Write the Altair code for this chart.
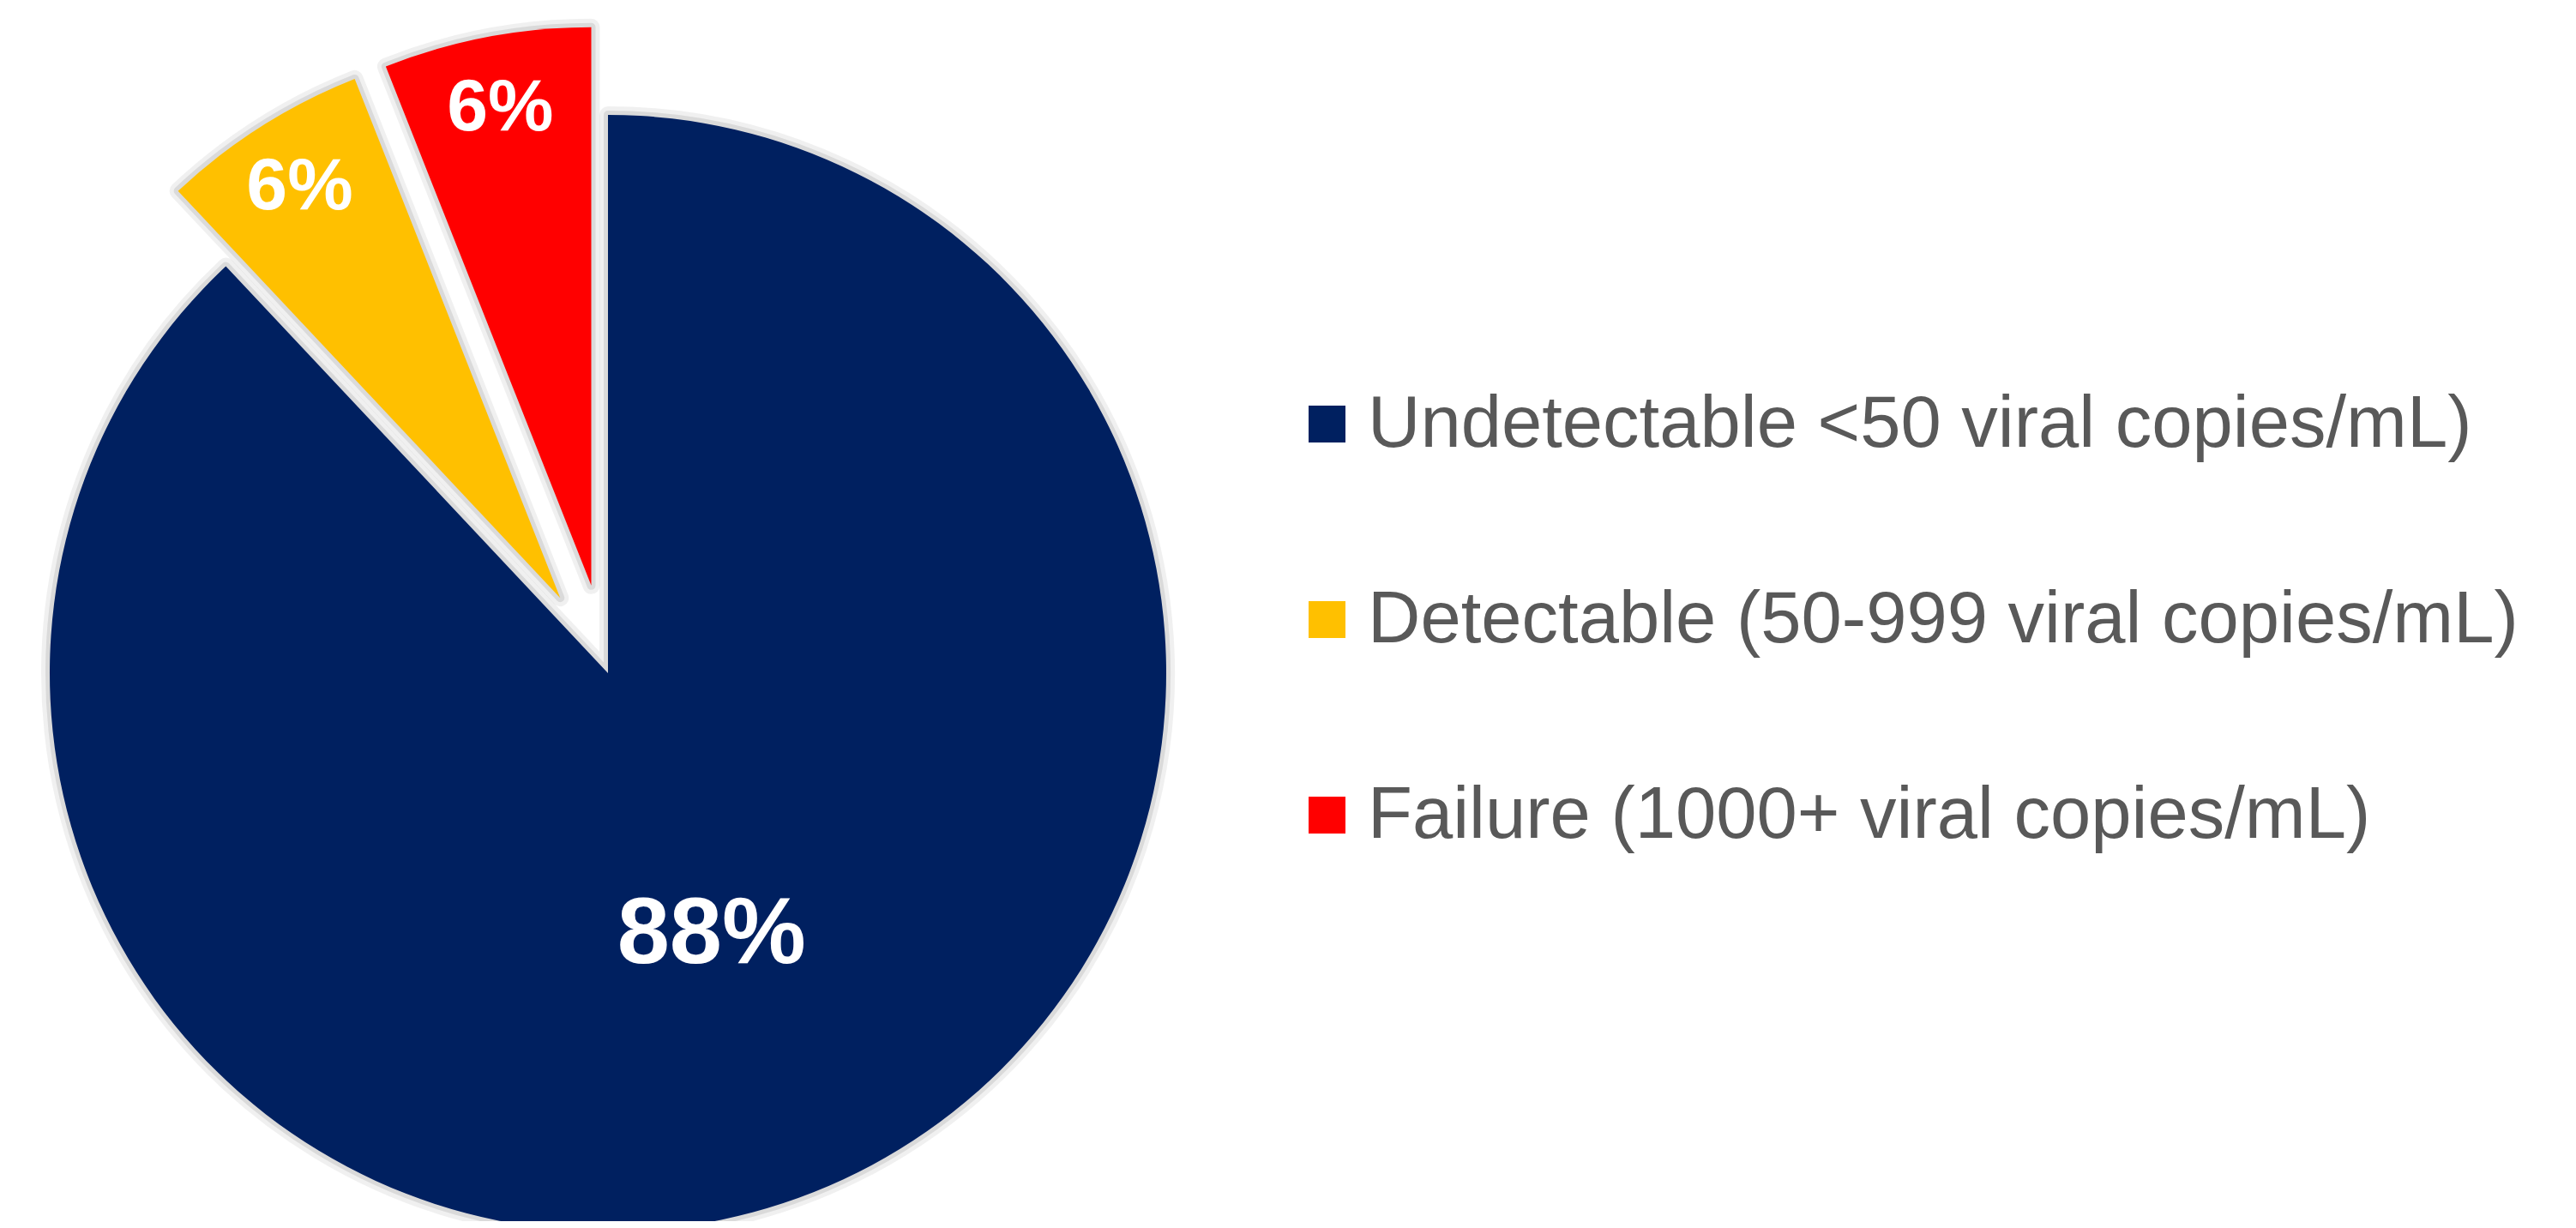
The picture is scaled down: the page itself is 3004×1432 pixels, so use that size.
import math
import altair as alt
import pandas as pd

# ---- data ----
categories = [
    "Undetectable <50 viral copies/mL)",
    "Detectable (50-999 viral copies/mL)",
    "Failure (1000+ viral copies/mL)",
]
percents = [88, 6, 6]
labels = ["88%", "6%", "6%"]
exploded = [0, 1, 1]
colors = ["#002060", "#FFC000", "#FF0000"]

df = pd.DataFrame({
    "category": categories,
    "pct": percents,
    "label": labels,
    "explode": exploded,
    "order": list(range(len(categories))),
})

# ---- layout / style ----
CX, CY, R, EXPLODE = 701, 777, 651, 104
FONT = "Liberation Sans"

th_scale = alt.Scale(domain=[0, 100], range=[0, 2 * math.pi])

base = (
    alt.Chart(df)
    .transform_window(cum="sum(pct)", sort=[alt.SortField("order")], frame=[None, 0])
    .transform_joinaggregate(total="sum(pct)")
    .transform_calculate(start="(datum.cum - datum.pct) / datum.total * 100")
    .transform_calculate(end="datum.cum / datum.total * 100")
    .transform_calculate(mid="(datum.cum - datum.pct / 2) / datum.total * 100")
    .transform_calculate(ang="(datum.cum - datum.pct / 2) / datum.total * 2 * PI")
    .transform_calculate(cx=f"{CX} + datum.explode * {EXPLODE} * sin(datum.ang)")
    .transform_calculate(cy=f"{CY} - datum.explode * {EXPLODE} * cos(datum.ang)")
)

pos = dict(
    x=alt.X("cx:Q", scale=None, axis=None),
    y=alt.Y("cy:Q", scale=None, axis=None),
)

halo_outer = base.mark_arc(
    radius=R, fillOpacity=0, stroke="#000000", strokeOpacity=0.06, strokeWidth=20, strokeJoin="round"
).encode(theta=alt.Theta("start:Q", scale=th_scale), theta2="end:Q", **pos)

halo_inner = base.mark_arc(
    radius=R, fillOpacity=0, stroke="#000000", strokeOpacity=0.09, strokeWidth=10, strokeJoin="round"
).encode(theta=alt.Theta("start:Q", scale=th_scale), theta2="end:Q", **pos)

arcs = base.mark_arc(radius=R, strokeWidth=0).encode(
    theta=alt.Theta("start:Q", scale=th_scale),
    theta2="end:Q",
    color=alt.Color(
        "category:N",
        scale=alt.Scale(domain=categories, range=colors),
        legend=alt.Legend(
            title=None,
            orient="none",
            legendX=1497,
            legendY=444,
            symbolType="square",
            symbolSize=1849,
            symbolStrokeWidth=0,
            symbolOpacity=1,
            labelFont=FONT,
            labelFontSize=85,
            labelColor="#595959",
            labelLimit=0,
            labelOffset=5,
            rowPadding=142,
            padding=0,
        ),
    ),
    **pos,
)

big_label = base.transform_filter("datum.explode == 0").mark_text(
    radius=328, font=FONT, fontSize=110, fontWeight="bold", color="white",
    align="center", baseline="middle",
).encode(theta=alt.Theta("mid:Q", scale=th_scale, stack=False), text="label:N", **pos)

small_labels = base.transform_filter("datum.explode == 1").mark_text(
    radius=567, font=FONT, fontSize=86, fontWeight="bold", color="white",
    align="center", baseline="middle",
).encode(theta=alt.Theta("mid:Q", scale=th_scale, stack=False), text="label:N", **pos)

chart = (
    alt.layer(halo_outer, halo_inner, arcs, big_label, small_labels)
    .properties(width=2980, height=1416, padding=0, autosize="none", background="white")
    .configure_view(stroke=None)
)

chart.save("out.html", embed_options={"renderer": "svg", "actions": False})
